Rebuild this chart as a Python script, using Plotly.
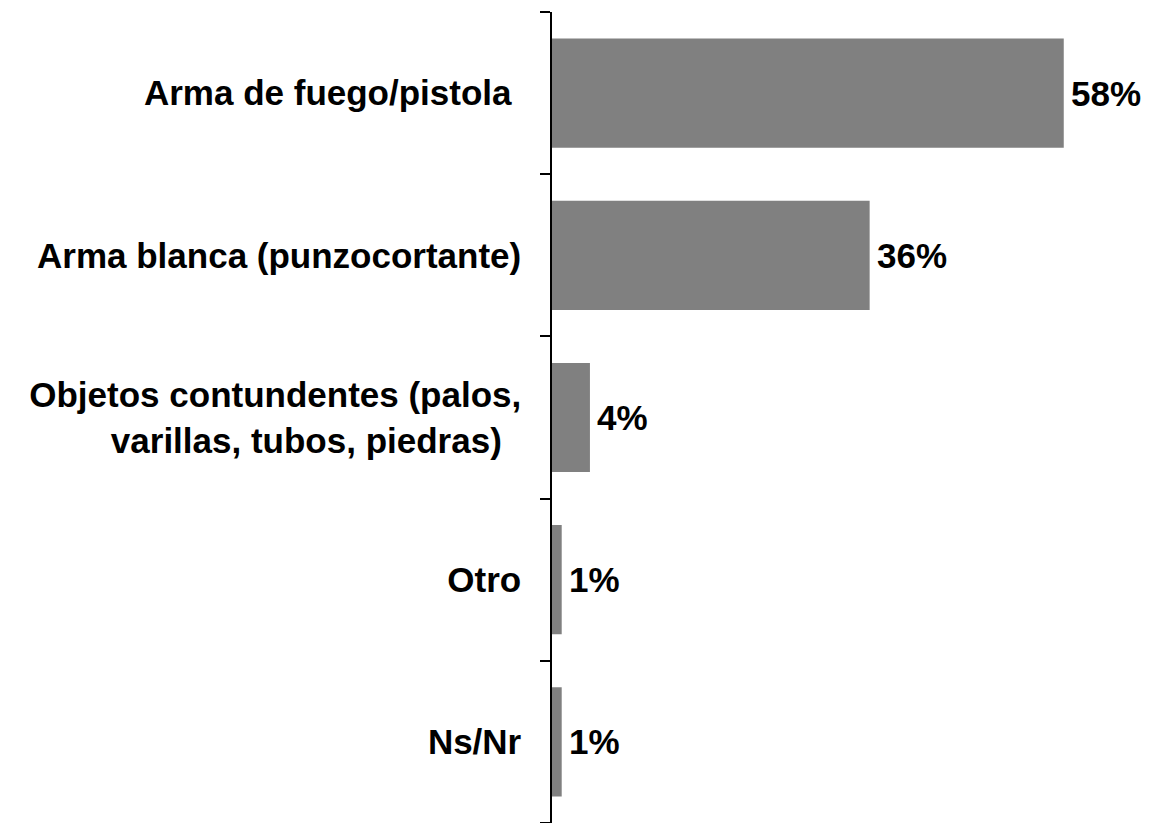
import plotly.graph_objects as go

categories = [
    "Arma de fuego/pistola",
    "Arma blanca (punzocortante)",
    "Objetos contundentes (palos, varillas, tubos, piedras)",
    "Otro",
    "Ns/Nr",
]
tick_labels = [
    "Arma de fuego/pistola\u00a0",
    "Arma blanca (punzocortante)",
    "Objetos contundentes (palos,<br>varillas, tubos, piedras)\u00a0\u00a0",
    "Otro",
    "Ns/Nr",
]
values = [58, 36, 4.3, 1.1, 1.1]

FONT = "Liberation Sans, Arial, sans-serif"

fig = go.Figure()
fig.add_trace(go.Bar(
    x=values,
    y=categories,
    orientation="h",
    marker=dict(color="#808080", line=dict(width=0)),
    hoverinfo="skip",
))

for v, c in zip(values, categories):
    fig.add_annotation(
        x=v, y=c, text=f"<b>{round(v)}%</b>", showarrow=False,
        xanchor="left", yanchor="middle", xshift=5,
        font=dict(family=FONT, size=35, color="black"),
    )

fig.update_layout(
    width=1151, height=823,
    margin=dict(l=544, r=7, t=4, b=8),
    paper_bgcolor="white", plot_bgcolor="white",
    bargap=0.327,
    showlegend=False,
    xaxis=dict(range=[0, 68], visible=False),
    yaxis=dict(
        autorange="reversed",
        tickmode="array", tickvals=categories, ticktext=[f"<b>{t}</b>" for t in tick_labels],
        showline=True, linecolor="black", linewidth=1.5,
        ticks="outside", ticklen=10, tickcolor="black", tickwidth=1.5,
        tickson="boundaries",
        ticklabelstandoff=22,
        tickfont=dict(family=FONT, size=35, color="black"),
        showgrid=False, zeroline=False,
    ),
)

fig.write_html("out.html")
